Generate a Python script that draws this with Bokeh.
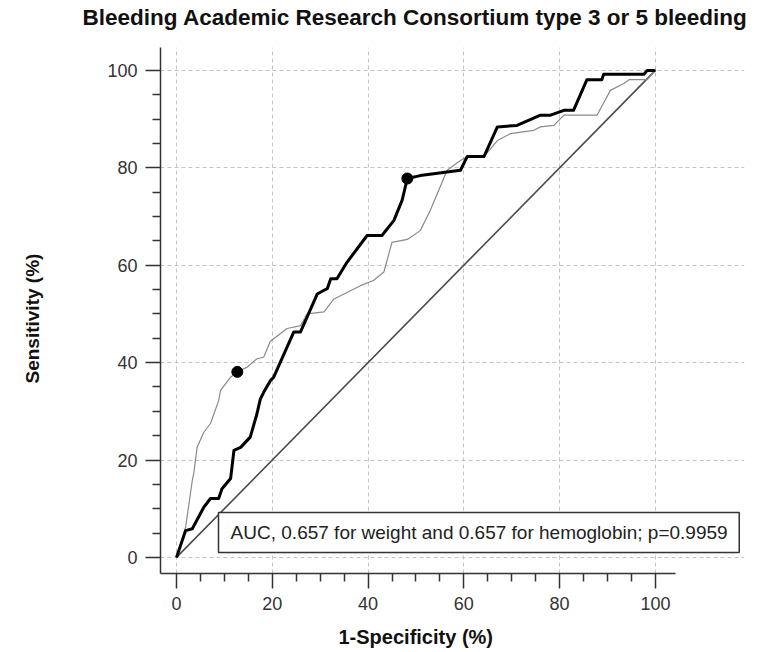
from bokeh.plotting import figure
from bokeh.models import Range1d, FixedTicker, Label, BoxAnnotation, Title
from bokeh.embed import file_html
from bokeh.resources import INLINE

# ---------------- data ----------------
weight_fpr = [0, 1.9, 3.3, 5.7, 7.1, 8.8, 9.5, 11.3, 12.0, 13.4, 15.4, 16.8, 17.5, 18.2,
              19.6, 20.3, 24.5, 25.9, 29.4, 30.7, 31.5, 32.2, 33.5, 35.6, 39.8, 42.9,
              45.4, 47.1, 48.2, 50.9, 59.3, 60.7, 64.2, 67.0, 71.1, 76.0, 78.1, 80.9,
              82.9, 85.7, 88.8, 89.2, 97.6, 98.3, 100]
weight_tpr = [0, 5.5, 5.9, 10.3, 12.1, 12.1, 14.1, 16.2, 22.0, 22.6, 24.7, 29.5, 32.5, 33.9,
              36.3, 37.0, 46.3, 46.3, 54.1, 54.8, 55.2, 57.2, 57.2, 60.6, 66.1, 66.1,
              69.2, 73.3, 77.8, 78.4, 79.5, 82.3, 82.3, 88.4, 88.7, 90.8, 90.8, 91.8,
              91.8, 98.1, 98.1, 99.2, 99.2, 100, 100]

hgb_fpr = [0, 1.9, 3.3, 3.6, 4.3, 5.7, 7.1, 8.8, 9.2, 11.3, 12.7, 14.8, 16.8, 18.2, 19.6,
           23.1, 25.9, 27.3, 30.8, 32.8, 38.4, 41.2, 43.3, 45.0, 48.2, 50.9, 53.0, 56.5,
           59.3, 60.7, 64.2, 67.0, 69.7, 74.6, 76.0, 78.8, 80.9, 87.8, 90.6, 93.4, 94.5,
           98.3, 100]
hgb_tpr = [0, 6.2, 15.8, 17.2, 22.6, 25.7, 27.5, 32.2, 34.3, 37.0, 38.1, 39.1, 40.8, 41.1,
           44.4, 47.0, 47.6, 50.0, 50.4, 53.0, 55.8, 56.9, 58.6, 64.7, 65.3, 67.1, 71.3,
           79.5, 81.5, 82.3, 82.3, 85.6, 87.0, 87.7, 88.4, 88.7, 90.8, 90.8, 95.9, 97.3,
           98.1, 98.1, 100]

# optimal cut-off points
cut_fpr = [48.2, 12.7]
cut_tpr = [77.8, 38.1]

chance_x = [0, 100]
chance_y = [0, 100]

major_ticks = [0, 20, 40, 60, 80, 100]
minor_ticks = [5, 10, 15, 25, 30, 35, 45, 50, 55, 65, 70, 75, 85, 90, 95]

title_text = "Bleeding Academic Research Consortium type 3 or 5 bleeding"
x_title = "1-Specificity (%)"
y_title = "Sensitivity (%)"
auc_text = "AUC, 0.657 for weight and 0.657 for hemoglobin; p=0.9959"

# ---------------- figure ----------------
X0, X1 = -3.34, 118.6
Y0, Y1 = -3.3, 104.7
FONT = "Liberation Sans"

p = figure(width=764, height=652, output_backend="svg", toolbar_location=None,
           title=None,
           x_range=Range1d(X0, X1), y_range=Range1d(Y0, Y1),
           min_border_left=160, min_border_right=20, min_border_top=47,
           min_border_bottom=79)
p.outline_line_color = None
p.background_fill_color = "white"
p.border_fill_color = "white"

for ax in (p.xaxis[0], p.yaxis[0]):
    ax.ticker = FixedTicker(ticks=major_ticks, minor_ticks=minor_ticks)
    ax.axis_line_color = "#333333"
    ax.axis_line_width = 1.5
    ax.major_tick_out = 15
    ax.major_tick_in = 0
    ax.minor_tick_out = 8
    ax.minor_tick_in = 0
    ax.major_tick_line_color = "#333333"
    ax.major_tick_line_width = 1.5
    ax.minor_tick_line_color = "#333333"
    ax.minor_tick_line_width = 1.5
    ax.major_label_text_font = FONT
    ax.major_label_text_font_size = "18px"
    ax.major_label_text_color = "#333333"
    ax.major_label_standoff = 8

p.xaxis[0].bounds = (X0, 104.2)

for g in (p.xgrid[0], p.ygrid[0]):
    g.grid_line_color = "#c4c4c4"
    g.grid_line_dash = "4 3"
    g.grid_line_width = 1
p.ygrid[0].bounds = (X0, 103.0)

# chance line
p.line(chance_x, chance_y, line_color="#4a4a4a", line_width=1.6)
# hemoglobin ROC (thin grey)
p.line(hgb_fpr, hgb_tpr, line_color="#8a8a8a", line_width=1.2)
# weight ROC (thick black)
p.line(weight_fpr, weight_tpr, line_color="black", line_width=3, line_join="round")
# cut-off points
p.scatter(cut_fpr, cut_tpr, size=11, fill_color="black", line_color="black")

# AUC box
box = BoxAnnotation(left=8.77, right=117.5, bottom=1.03, top=9.24,
                    fill_color="white", fill_alpha=1.0,
                    line_color="#333333", line_width=1.5, line_alpha=1.0)
p.add_layout(box)
p.add_layout(Label(x=11.3, y=5.13, text=auc_text, text_baseline="middle",
                   text_align="left", text_font=FONT, text_font_size="19px",
                   text_color="#222222"))

# ---- titles (spacers first so that the real titles sit further out) ----
top_spacer = Title(text=" ", text_font_size="1px", standoff=14)
p.add_layout(top_spacer, "above")
main_title = Title(text=title_text, align="left", offset=-78, standoff=2,
                   text_font=FONT, text_font_size="22.5px", text_font_style="bold",
                   text_color="#111111")
p.add_layout(main_title, "above")

bottom_spacer = Title(text=" ", text_font_size="1px", standoff=7)
p.add_layout(bottom_spacer, "below")
xt = Title(text=x_title, align="left", offset=178, standoff=3, text_font=FONT,
           text_font_size="20px", text_font_style="bold", text_color="#111111")
p.add_layout(xt, "below")

left_spacer = Title(text=" ", text_font_size="1px", standoff=58)
p.add_layout(left_spacer, "left")
yt = Title(text=y_title, align="left", offset=190, standoff=2, text_font=FONT,
           text_font_size="19px", text_font_style="bold", text_color="#111111")
p.add_layout(yt, "left")

open("out.html", "w").write(file_html(p, INLINE))
